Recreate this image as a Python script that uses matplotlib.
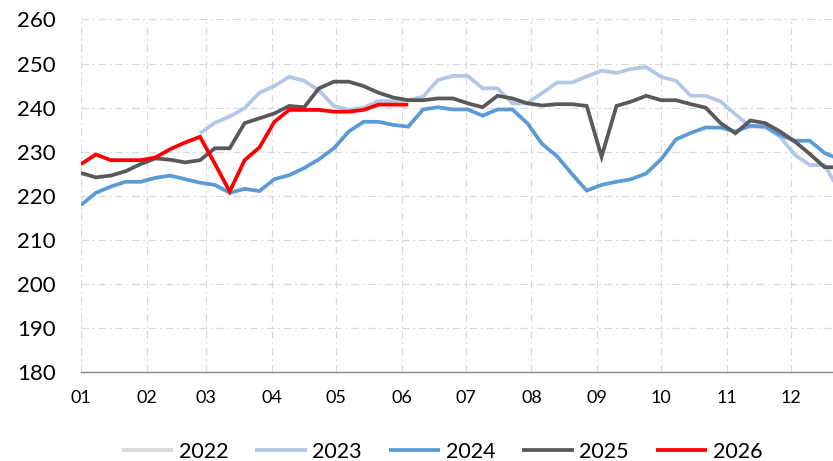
import matplotlib
matplotlib.use("Agg")
import matplotlib.pyplot as plt
import numpy as np

plt.rcParams['font.family'] = ['Lato', 'DejaVu Sans']

# ---- data (weekly, week index 0.. ; x = 7 days per week) ----
month_labels = ["01", "02", "03", "04", "05", "06", "07", "08", "09", "10", "11", "12"]
month_start_day = [0, 31, 59, 90, 120, 151, 181, 212, 243, 273, 304, 334]

years = ["2022", "2023", "2024", "2025", "2026"]

s2022 = []  # no visible data

s2023_start = 8
s2023 = [234.2, 236.6, 238.0, 239.9, 243.4, 244.9, 247.0, 246.1, 243.9, 240.4,
         239.5, 240.0, 241.5, 241.5, 241.7, 242.5, 246.3, 247.2, 247.2, 244.4,
         244.4, 241.0, 241.0, 243.3, 245.7, 245.7, 247.1, 248.4, 247.9, 248.8,
         249.2, 247.0, 246.1, 242.7, 242.7, 241.4, 238.5, 235.7, 235.7, 233.4,
         229.3, 227.0, 227.0, 221.0]

s2024 = [217.9, 220.7, 222.1, 223.2, 223.2, 224.1, 224.6, 223.8, 223.0, 222.5,
         220.7, 221.6, 221.1, 223.8, 224.7, 226.3, 228.3, 230.8, 234.6, 236.8,
         236.8, 236.1, 235.7, 239.6, 240.1, 239.6, 239.6, 238.2, 239.6, 239.6,
         236.5, 231.8, 229.0, 225.0, 221.2, 222.5, 223.2, 223.8, 225.1, 228.3,
         232.8, 234.3, 235.5, 235.5, 234.6, 235.9, 235.7, 233.8, 232.5, 232.5,
         229.7, 228.3]

s2025 = [225.2, 224.2, 224.6, 225.6, 227.2, 228.5, 228.2, 227.6, 228.1, 230.8,
         230.8, 236.5, 237.6, 238.7, 240.4, 240.1, 244.4, 245.9, 245.9, 244.9,
         243.4, 242.3, 241.7, 241.7, 242.1, 242.1, 241.0, 240.1, 242.7, 242.1,
         241.0, 240.5, 240.8, 240.8, 240.4, 228.9, 240.4, 241.4, 242.7, 241.7,
         241.7, 240.8, 240.0, 236.5, 234.2, 237.1, 236.5, 234.6, 232.3, 229.5,
         226.5, 226.5]

s2026 = [227.2, 229.4, 228.1, 228.1, 228.1, 228.7, 230.6, 232.1, 233.4, 227.3,
         221.0, 228.1, 231.0, 236.8, 239.5, 239.5, 239.5, 239.1, 239.1, 239.5,
         240.7, 240.7, 240.7]

colors = ["#D9D9D9", "#B4C7E7", "#5B9BD5", "#595959", "#FF0000"]

W, H = 833, 461
fig = plt.figure(figsize=(W / 100, H / 100), dpi=100)
left = 81 / W
bottom = 1 - 372.3 / H
top = 1 - 19.5 / H
ax = fig.add_axes([left, bottom, 1 - left, top - bottom])

def days(start, n):
    return [7 * (start + i) for i in range(n)]

series = [(s2022, 0), (s2023, s2023_start), (s2024, 0), (s2025, 0), (s2026, 0)]
for (vals, start), name, c in zip(series, years, colors):
    ax.plot(days(start, len(vals)), vals, color=c, lw=2.7, label=name,
            solid_joinstyle='miter', solid_capstyle='butt', clip_on=True)

ax.set_xlim(0, (833 - 81) / ((790.7 - 81) / 334))
ax.set_ylim(180, 260)
ax.set_yticks(np.arange(180, 261, 10))
ax.set_xticks(month_start_day)
ax.set_xticklabels(month_labels)

grid_kw = dict(color="#D9D9D9", lw=0.9, linestyle=(0, (6, 3, 1.5, 3)))
ax.grid(True, axis='both', **grid_kw)
ax.set_axisbelow(True)
for s in ['top', 'right', 'left']:
    ax.spines[s].set_visible(False)
ax.spines['bottom'].set_color("#898989")
ax.spines['bottom'].set_linewidth(1.0)
ax.spines['bottom'].set_zorder(0.5)

ax.tick_params(axis='y', length=0, labelsize=16, pad=18, colors='black')
ax.tick_params(axis='x', length=0, labelsize=13, pad=13, colors='black')

fig.legend(loc='center', bbox_to_anchor=(442 / W, 1 - 452 / H), ncol=5,
           frameon=False, fontsize=15.5, handlelength=2.4, handletextpad=0.25,
           columnspacing=1.25, borderaxespad=0, borderpad=0)

fig.savefig("out.png", dpi=100)
